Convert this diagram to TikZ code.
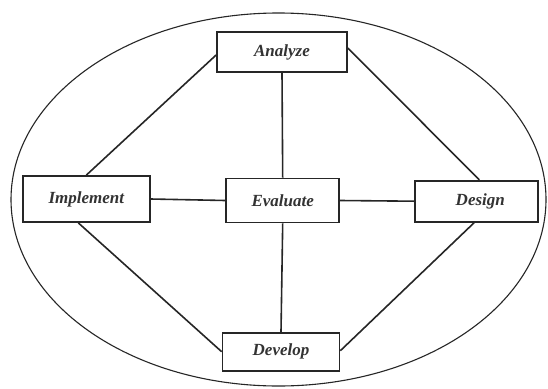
\documentclass[tikz,border=0pt]{standalone}
\usepackage{fontspec}
\setmainfont{Liberation Serif}
\begin{document}
\begin{tikzpicture}[x=1pt,y=-1pt,
  box/.style={draw=black!85,line width=1.7pt,rectangle,inner sep=0pt,fill=white,
    font=\fontsize{17}{19}\selectfont\bfseries\itshape,text=black!80},
  link/.style={draw=black!85,line width=1.6pt}]
\useasboundingbox[fill=white] (0,0) rectangle (548,388);
\draw[line width=1.1pt,black!85] (278.5,199.5) ellipse [x radius=267.5pt, y radius=186.5pt];
\node[box,minimum width=130pt,minimum height=40pt] (an) at (282,52) {Analyze};
\node[box,minimum width=127pt,minimum height=46pt] (im) at (86.3,199) {Implement};
\node[box,minimum width=113pt,minimum height=44pt] (ev) at (282.7,200.5) {Evaluate};
\node[box,minimum width=123pt,minimum height=41pt,text width=115pt,align=center] (de) at (476.3,201.2) {\hspace*{8pt}Design};
\node[box,minimum width=117pt,minimum height=38pt] (dv) at (281,351.7) {Develop};
\draw[link] (an.south) -- (ev.north);
\draw[link] (ev.south) -- (dv.north);
\draw[link] (im.east) -- (ev.west);
\draw[link] (ev.east) -- (de.west);
\draw[link] (im.north) -- ([yshift=-3pt]an.west);
\draw[link] ([yshift=4pt]an.east) -- ([xshift=3pt]de.north);
\draw[link] ([xshift=-8pt]im.south) -- (dv.west);
\draw[link] ([xshift=-2pt]de.south) -- ([yshift=1pt]dv.east);
\end{tikzpicture}
\end{document}
